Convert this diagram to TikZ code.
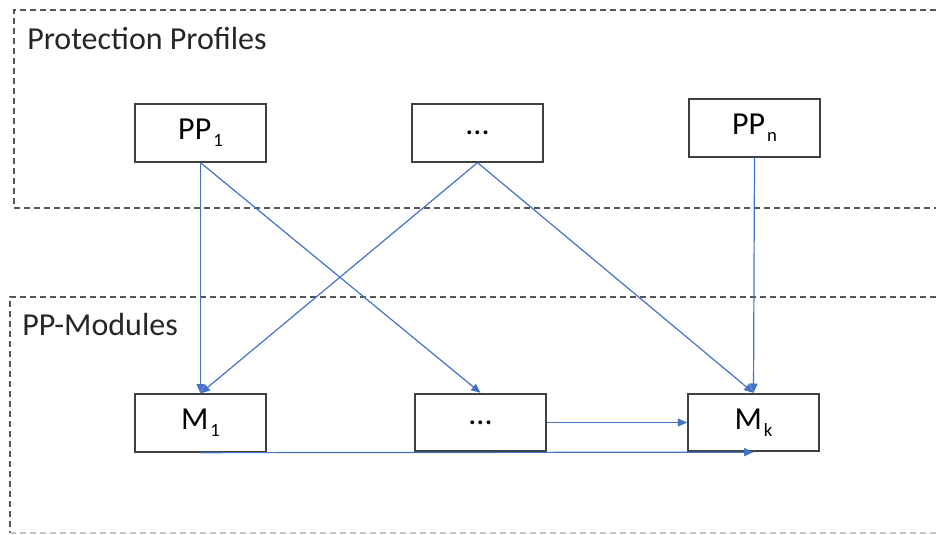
\documentclass[tikz,border=0pt]{standalone}
\usepackage{fontspec}
\setmainfont{Carlito}
\usepackage{tikz}
\usetikzlibrary{arrows.meta,positioning}
\definecolor{ppblue}{HTML}{4472C4}
\definecolor{ppframe}{HTML}{404040}
\definecolor{ppdash}{HTML}{555555}
\newcommand{\ppsub}[1]{\kern1.5pt\raisebox{-0.45ex}{\fontsize{14}{16}\selectfont #1}}

\begin{document}
\begin{tikzpicture}[
  x=0.75pt, y=-0.75pt,
  ppbox/.style={draw=ppframe, line width=1.5pt, fill=white, minimum width=98pt, minimum height=43pt, inner sep=0pt, font=\fontsize{24}{28}\selectfont},
  grouplabel/.style={anchor=base west, inner sep=0pt, font=\fontsize{24}{28}\selectfont, text=black!85},
  groupframe/.style={draw=ppdash, line width=1.1pt, dash pattern=on 4.5pt off 3pt},
  link/.style={draw=ppblue, line width=0.9pt, -{Triangle[length=7pt,width=6pt]}},
]
\useasboundingbox (0,0) rectangle (936,535);
% group frames (open to the right)
\draw[groupframe] (936,10) -- (14,10) -- (14,208) -- (936,208);
\draw[groupframe] (936,297) -- (10,297) -- (10,533);
\draw[groupframe, draw=ppdash!35] (10,533) -- (936,533);
\node[grouplabel] (tplabel) at (27,50) {Protection Profiles};
\node[grouplabel] (bmlabel) at (22,335) {PP-Modules};

% protection profiles
\node[ppbox] (pp1) at (200.5,133) {PP\ppsub{1}};
\node[ppbox] (ppdots) at (477.5,133) {...};
\node[ppbox] (ppn) at (754.5,128) {PP\ppsub{n}};

% modules
\node[ppbox] (m1) at (200.5,423) {M\ppsub{1}};
\node[ppbox] (mdots) at (480.5,422.5) {...};
\node[ppbox] (mk) at (753.5,422.5) {M\ppsub{k}};

% dependencies
\draw[link] (pp1.south) -- (m1.north);
\draw[link] (pp1.south) -- (mdots.north);
\draw[link] (ppdots.south) -- (m1.north);
\draw[link] (ppdots.south) -- (mk.north);
\draw[link] (ppn.south) -- (mk.north);
\draw[link] (mdots.east) -- (mk.west);
\draw[link] (m1.south) -- (mk.south);
\end{tikzpicture}
\end{document}
